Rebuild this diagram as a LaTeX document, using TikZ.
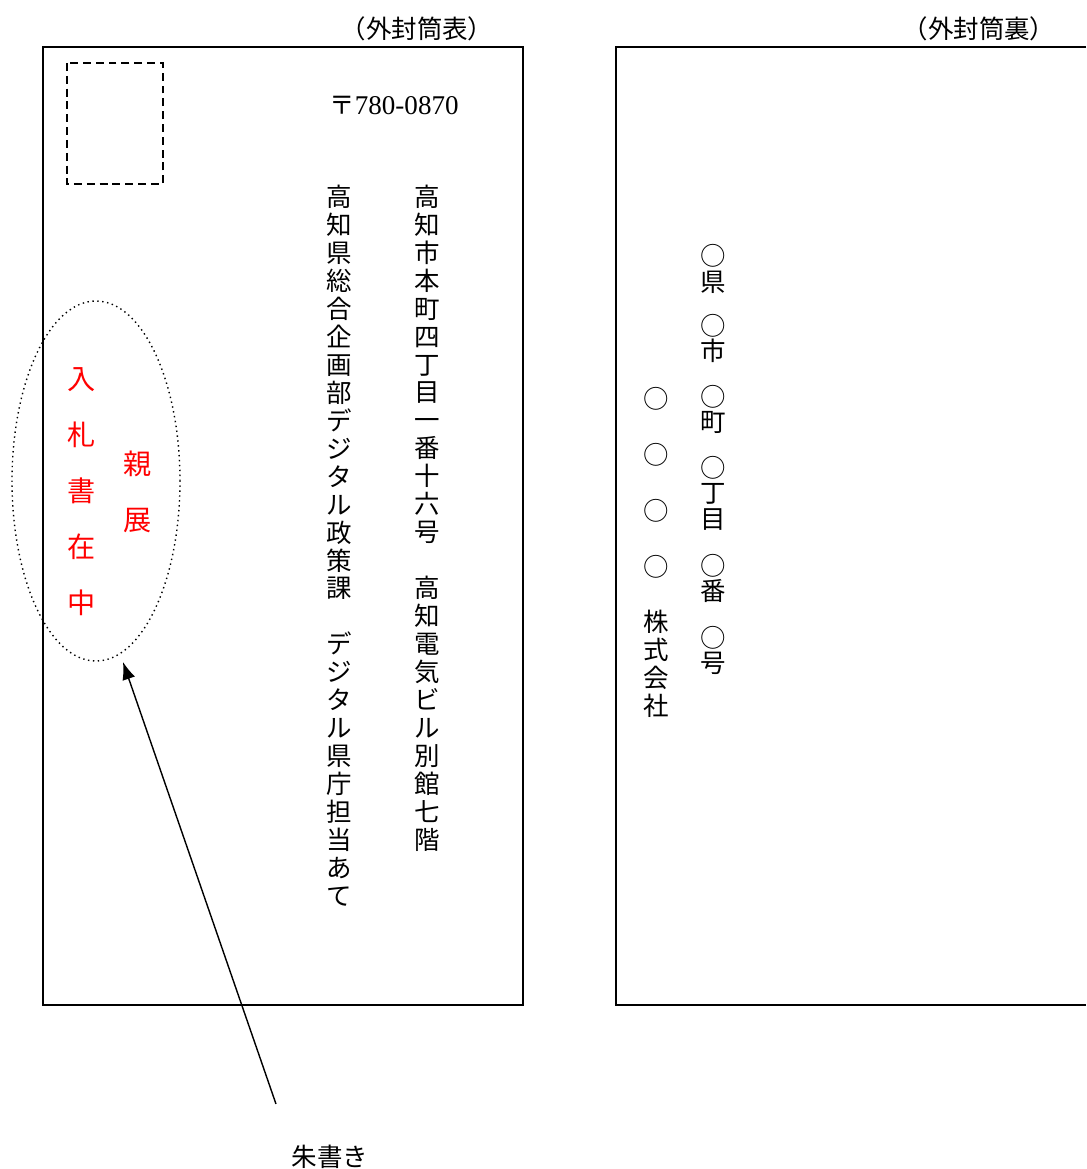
\documentclass[tikz,border=0pt]{standalone}
\usepackage{fontspec}
\usetikzlibrary{arrows.meta}
\newfontfamily\jp{Noto Sans CJK JP}
\newfontfamily\tnr{Liberation Serif}
\ExplSyntaxOn
\NewDocumentCommand\tate{O{15.9pt}m}{\vbox{\baselineskip=#1\lineskiplimit=-\maxdimen
  \tl_map_inline:nn{#2}{\hbox to 1em{\hss##1\hss}}}}
\ExplSyntaxOff

\begin{document}
\begin{tikzpicture}[scale=0.2]
    \tikzstyle{every node}+=[inner sep=0pt, font=\jp\fontsize{14.5pt}{15.9pt}\selectfont]
    \tikzstyle{shu}=[red, font=\jp\fontsize{16pt}{16pt}\selectfont]
    \useasboundingbox (0,0) rectangle (108.6,-116.9);
    \draw [black, line width=1pt] (4.27,-4.67) rectangle (52.3,-100.5);
    \draw [black, line width=1pt] (108.6,-4.67) -- (61.6,-4.67) -- (61.6,-100.5) -- (108.6,-100.5);
    \draw [black, line width=1.1pt, dash pattern=on 4.5pt off 2.8pt] (6.67,-6.3) rectangle (16.3,-18.4);
    \draw [black, line width=0.8pt, dotted] (9.6,-48.1) ellipse (8.4 and 18);
    \node (omote) at (41.7,-2.9) {（外封筒表）};
    \node (ura) at (97.9,-2.9) {（外封筒裏）};
    \node (yubin) at (39.4,-10.5) {〒{\tnr\fontsize{15.4pt}{16pt}\selectfont 780-0870}};
    \node (jusho) at (42.7,-51.8) {\tate{高知市本町四丁目一番十六号　高知電気ビル別館七階}};
    \node (atena) at (33.9,-54.57) {\tate{高知県総合企画部デジタル政策課　デジタル県庁担当あて}};
    \node [shu] (nyusatsu) at (8.2,-49.2) {\tate[31.9pt]{入札書在中}};
    \node [shu] (shinten) at (13.8,-49.15) {\tate[31.9pt]{親展}};
    \node (kaisha) at (65.6,-55.25) {\tate{○　○　○　○　株式会社}};
    \node (ken) at (71.3,-26.9) {\tate[14.5pt]{○県}};
    \node (shi) at (71.3,-33.85) {\tate[14.5pt]{○市}};
    \node (machi) at (71.3,-40.95) {\tate[14.5pt]{○町}};
    \node (chome) at (71.3,-49.3) {\tate[14.5pt]{○丁目}};
    \node (ban) at (71.3,-57.85) {\tate[14.5pt]{○番}};
    \node (go) at (71.3,-65.05) {\tate[14.5pt]{○号}};
    \coordinate (shu tail) at (27.6,-110.4);
    \coordinate (shu tip) at (12.3,-66.2);
    \draw [black, line width=0.8pt, -{Latex[length=10pt,width=7.5pt]}] (shu tail) -- (shu tip);
    \node (shugaki) at (33,-115.7) {朱書き};
\end{tikzpicture}
\end{document}
